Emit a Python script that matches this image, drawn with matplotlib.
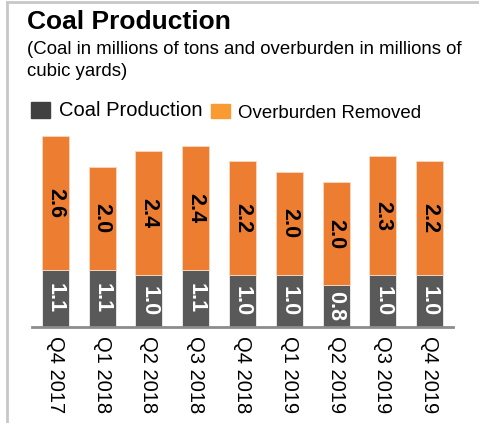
import matplotlib
matplotlib.use("Agg")
import matplotlib.pyplot as plt
from matplotlib.patches import Rectangle
from matplotlib.lines import Line2D

plt.rcParams["font.family"] = ["Liberation Sans", "DejaVu Sans"]

quarters = ["Q4 2017", "Q1 2018", "Q2 2018", "Q3 2018", "Q4 2018",
            "Q1 2019", "Q2 2019", "Q3 2019", "Q4 2019"]
coal = [1.1, 1.1, 1.0, 1.1, 1.0, 1.0, 0.8, 1.0, 1.0]
overburden = [2.6, 2.0, 2.4, 2.4, 2.2, 2.0, 2.0, 2.3, 2.2]

GRAY = "#595959"
ORANGE = "#ED7D31"

W, H = 479, 423
fig = plt.figure(figsize=(W / 100, H / 100), dpi=100)


def px(x, y):
    # pixel position (from top-left) -> figure fraction
    return x / W, 1 - y / H


# plot area: baseline at ~326 px, 9 slots across 32..453 px
ax = fig.add_axes([32 / W, 1 - 326.5 / H, (453 - 32) / W, 206.4 / H])
x = range(len(quarters))
ax.bar(x, coal, width=0.575, color=GRAY, edgecolor="#f0f0f0", linewidth=0.6)
ax.bar(x, overburden, width=0.575, bottom=coal, color=ORANGE,
       edgecolor="#f7d9c4", linewidth=0.6)

for i, (c, o) in enumerate(zip(coal, overburden)):
    ax.text(i, c / 2, f"{c:.1f}", rotation=-90, ha="center", va="center",
            color="white", fontsize=15.5, fontweight="bold")
    ax.text(i, c + o / 2, f"{o:.1f}", rotation=-90, ha="center", va="center",
            color="black", fontsize=15.5, fontweight="bold")

ax.set_xlim(-0.5, len(quarters) - 0.5)
ax.set_ylim(0, 4)
ax.set_xticks(list(x))
ax.set_xticklabels(quarters, rotation=-90, fontsize=14.5)
ax.tick_params(axis="x", length=0, pad=7)
ax.set_yticks([])
for side in ["top", "right", "left"]:
    ax.spines[side].set_visible(False)
ax.spines["bottom"].set_color("#8c8c8c")
ax.spines["bottom"].set_linewidth(2)

# titles
fig.text(*px(27, 29), "Coal Production", fontsize=19, fontweight="bold",
         va="baseline", ha="left")
fig.text(*px(27, 53.5), "(Coal in millions of tons and overburden in millions of",
         fontsize=13.4, va="baseline", ha="left")
fig.text(*px(27, 75.5), "cubic yards)", fontsize=13.4, va="baseline", ha="left")

# legend, drawn by hand
fig.add_artist(Rectangle(px(31, 118.3), 19 / W, 16.6 / H, color="#404040",
                         transform=fig.transFigure))
fig.text(*px(59, 115.5), "Coal Production", fontsize=14.5, va="baseline")
fig.add_artist(Rectangle(px(211, 118.3), 19 / W, 14 / H, color="#F99A33",
                         transform=fig.transFigure))
fig.text(*px(238, 118.5), "Overburden Removed", fontsize=13.4, va="baseline")

# outer frame on the top and left edges
fig.add_artist(Line2D([7 / W, 1], [1 - 2 / H, 1 - 2 / H], color="#c8c8c8",
                      linewidth=2, transform=fig.transFigure))
fig.add_artist(Line2D([7 / W, 7 / W], [0, 1 - 2 / H], color="#c8c8c8",
                      linewidth=2, transform=fig.transFigure))

fig.savefig("out.png", dpi=100, facecolor="white")
